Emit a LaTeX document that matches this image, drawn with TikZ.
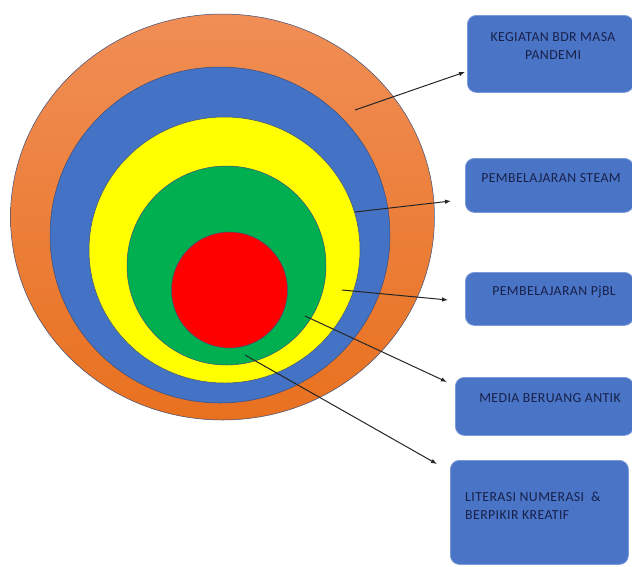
\documentclass[tikz,border=0pt]{standalone}
\usepackage{fontspec}
\setmainfont{Carlito}
\newfontfamily\boxfont[LetterSpace=3]{Carlito}
\usetikzlibrary{arrows.meta,shapes.geometric}
\definecolor{orgtop}{HTML}{F08E56}
\definecolor{orgbot}{HTML}{E8711F}
\definecolor{ringblue}{HTML}{4472C4}
\definecolor{ringyellow}{HTML}{FFFF00}
\definecolor{ringgreen}{HTML}{00B050}
\definecolor{ringred}{HTML}{FF0000}
\definecolor{boxblue}{HTML}{4A74C6}
\definecolor{boxedge}{HTML}{7A9AD8}
\definecolor{txtnavy}{HTML}{18214A}
\definecolor{ringedge}{HTML}{3C4E7A}
\begin{document}
\begin{tikzpicture}[x=1pt,y=-1pt,
  ring/.style={ellipse,inner sep=0pt,draw=ringedge,line width=0.5pt},
  infobox/.style={rectangle,rounded corners=9pt,fill=boxblue,draw=boxedge,line width=0.8pt,anchor=north west,inner sep=0pt},
  boxtext/.style={text=txtnavy,font=\boxfont\fontsize{13.8}{17.5}\selectfont,inner sep=0pt},
  pointer/.style={draw=black!85,line width=1pt,-{Latex[length=6pt,width=4.5pt]}}]
\useasboundingbox (0,0) rectangle (632,566);
% rings
\node[ring,top color=orgtop,bottom color=orgbot,minimum width=424pt,minimum height=406pt] (orange) at (222.5,217) {};
\node[ring,fill=ringblue,minimum width=340pt,minimum height=336pt] (blue) at (220,235) {};
\node[ring,fill=ringyellow,minimum width=271pt,minimum height=266pt] (yellow) at (224.5,250) {};
\node[ring,fill=ringgreen,minimum width=199pt,minimum height=199pt] (green) at (226.5,265.5) {};
\node[ring,fill=ringred,minimum width=116pt,minimum height=116pt] (red) at (229.5,290) {};
% boxes
\node[infobox,minimum width=166pt,minimum height=77pt] (b1) at (467,15) {};
\node[infobox,minimum width=168pt,minimum height=54pt] (b2) at (465,158) {};
\node[infobox,minimum width=168pt,minimum height=53pt] (b3) at (465,272) {};
\node[infobox,minimum width=178pt,minimum height=58pt] (b4) at (455,377) {};
\node[infobox,minimum width=178pt,minimum height=104pt] (b5) at (450,460) {};
% texts
\node[boxtext,align=center] (t1) at (553,46) {KEGIATAN BDR MASA\\PANDEMI};
\node[boxtext] (t2) at (551,178) {PEMBELAJARAN STEAM};
\node[boxtext] (t3) at (554,292) {PEMBELAJARAN PjBL};
\node[boxtext] (t4) at (550,398) {MEDIA BERUANG ANTIK};
\node[boxtext,align=left,anchor=west] (t5) at (465,506) {LITERASI NUMERASI \ \&\\BERPIKIR KREATIF};
% arrow ends
\coordinate (s1) at (355,110);
\coordinate (s2) at (355,212);
\coordinate (s3) at (342,290);
\coordinate (s4) at (305,316);
\coordinate (s5) at (245,355);
\coordinate (e1) at (465,72);
\coordinate (e2) at (451,201);
\coordinate (e3) at (448,300);
\coordinate (e4) at (447,382);
\coordinate (e5) at (437,464);
\draw[pointer] (s1) -- (e1);
\draw[pointer] (s2) -- (e2);
\draw[pointer] (s3) -- (e3);
\draw[pointer] (s4) -- (e4);
\draw[pointer] (s5) -- (e5);
\end{tikzpicture}
\end{document}
